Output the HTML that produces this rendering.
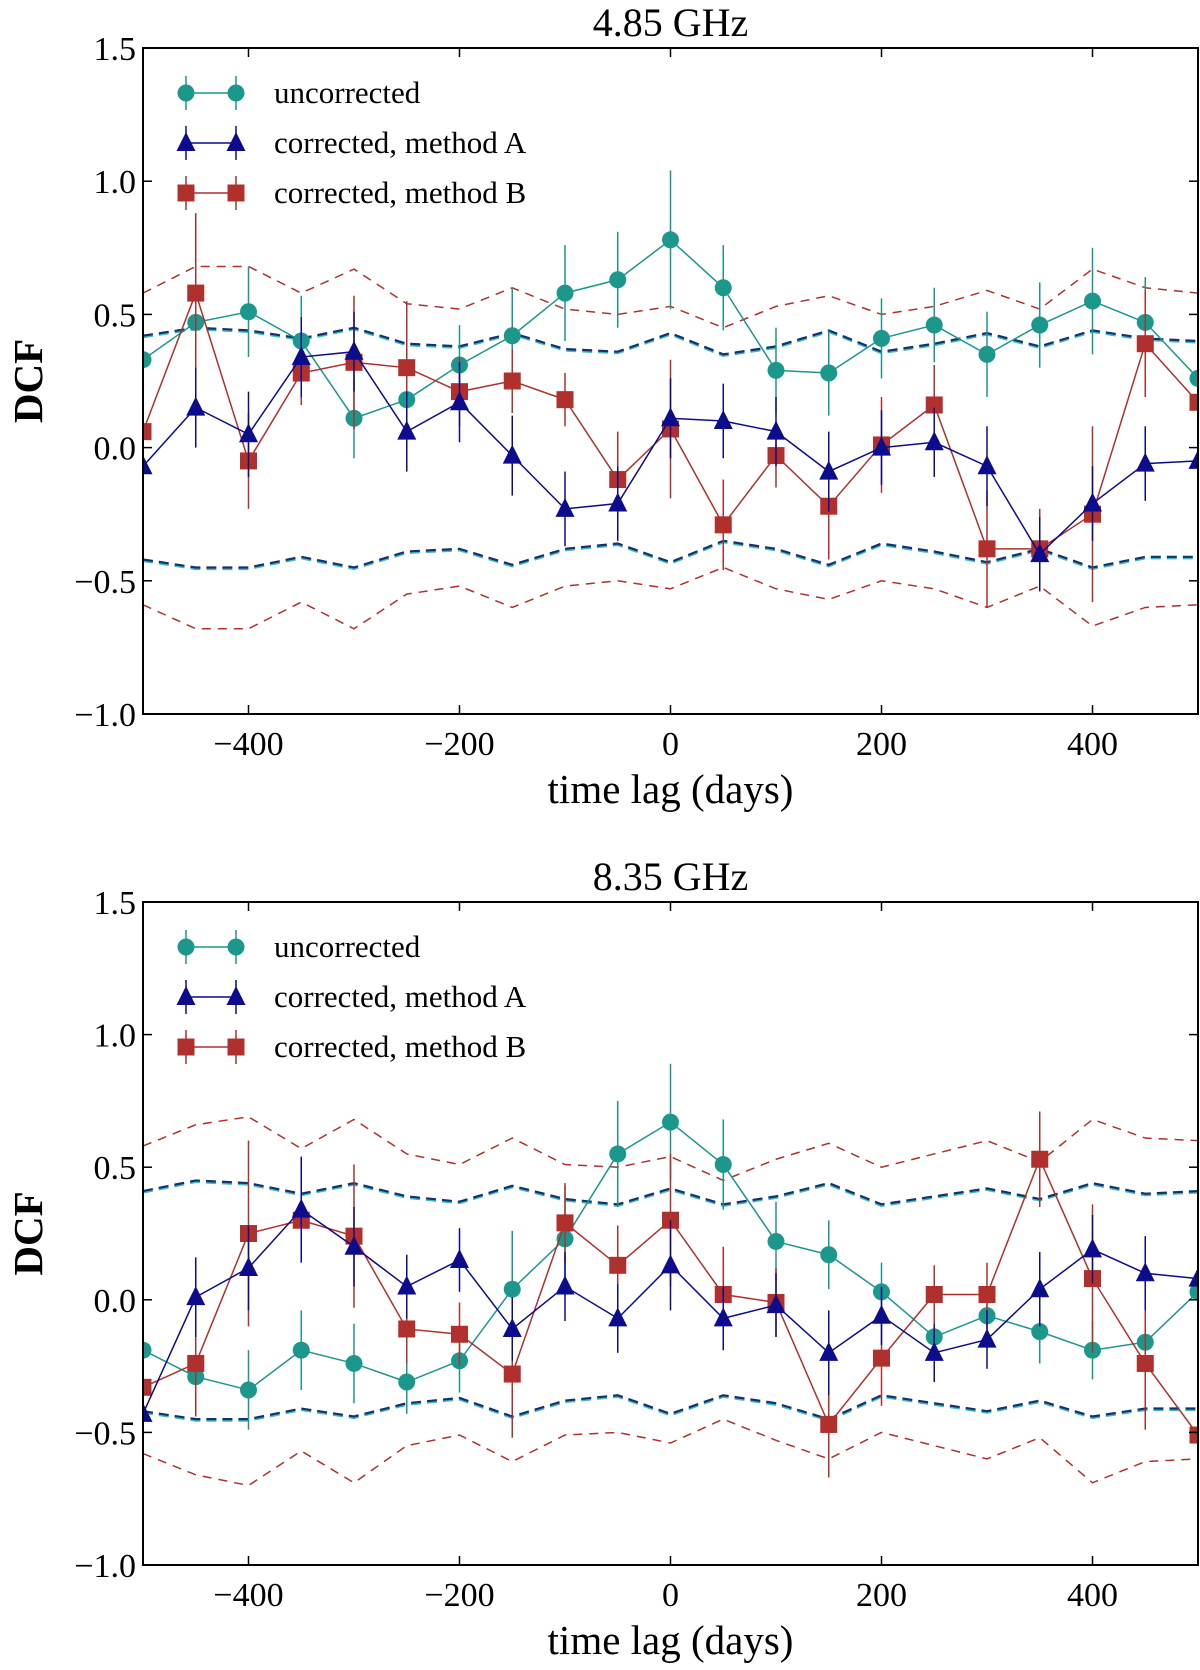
<!DOCTYPE html>
<html><head><meta charset="utf-8"><style>
body{margin:0;background:#fff}
svg{display:block;font-family:"Liberation Serif",serif}
</style></head><body>
<svg id="c" width="1200" height="1670" xmlns="http://www.w3.org/2000/svg"></svg>
<script>
const lags=[-500,-450,-400,-350,-300,-250,-200,-150,-100,-50,0,50,100,150,200,250,300,350,400,450,500];
const xTicks=[-400,-200,0,200,400];
const yTicks=[-1.0,-0.5,0.0,0.5,1.0,1.5];
const yTickLabels=["\u22121.0","\u22120.5","0.0","0.5","1.0","1.5"];
const xTickLabels=["\u2212400","\u2212200","0","200","400"];
// panel 1 (4.85 GHz)
const p1Unc=[0.33,0.47,0.51,0.40,0.11,0.18,0.31,0.42,0.58,0.63,0.78,0.60,0.29,0.28,0.41,0.46,0.35,0.46,0.55,0.47,0.26];
const p1UncErr=[0.1,0.1,0.17,0.17,0.15,0.15,0.15,0.18,0.18,0.18,0.26,0.16,0.16,0.16,0.15,0.14,0.16,0.16,0.2,0.17,0.15];
const p1A=[-0.07,0.15,0.05,0.34,0.36,0.06,0.17,-0.03,-0.23,-0.21,0.11,0.10,0.06,-0.09,0.00,0.02,-0.07,-0.40,-0.21,-0.06,-0.05];
const p1AErr=[0.15,0.15,0.16,0.15,0.15,0.15,0.15,0.15,0.14,0.14,0.15,0.14,0.13,0.15,0.14,0.13,0.15,0.14,0.14,0.14,0.14];
const p1B=[0.06,0.58,-0.05,0.28,0.32,0.30,0.21,0.25,0.18,-0.12,0.07,-0.29,-0.03,-0.22,0.01,0.16,-0.38,-0.38,-0.25,0.39,0.17];
const p1BErr=[0.12,0.3,0.18,0.12,0.25,0.25,0.13,0.12,0.1,0.18,0.26,0.17,0.12,0.2,0.18,0.15,0.22,0.15,0.33,0.2,0.12];
const p1BlueUp=[0.42,0.45,0.44,0.41,0.45,0.39,0.38,0.43,0.37,0.36,0.43,0.35,0.38,0.44,0.36,0.39,0.43,0.38,0.44,0.41,0.40];
const p1BlueLo=[-0.42,-0.45,-0.45,-0.41,-0.45,-0.39,-0.38,-0.44,-0.38,-0.36,-0.43,-0.35,-0.38,-0.44,-0.36,-0.39,-0.43,-0.38,-0.45,-0.41,-0.41];
const p1RedUp=[0.58,0.68,0.68,0.58,0.67,0.54,0.52,0.60,0.52,0.50,0.53,0.45,0.53,0.57,0.50,0.53,0.59,0.52,0.67,0.60,0.58];
const p1RedLo=[-0.59,-0.68,-0.68,-0.58,-0.68,-0.55,-0.52,-0.60,-0.52,-0.50,-0.53,-0.45,-0.53,-0.57,-0.50,-0.53,-0.60,-0.52,-0.67,-0.60,-0.59];
// panel 2 (8.35 GHz)
const p2Unc=[-0.19,-0.29,-0.34,-0.19,-0.24,-0.31,-0.23,0.04,0.23,0.55,0.67,0.51,0.22,0.17,0.03,-0.14,-0.06,-0.12,-0.19,-0.16,0.03];
const p2UncErr=[0.13,0.13,0.15,0.15,0.15,0.12,0.12,0.22,0.2,0.2,0.22,0.17,0.15,0.13,0.11,0.1,0.11,0.12,0.11,0.14,0.12];
const p2A=[-0.43,0.01,0.12,0.34,0.20,0.05,0.15,-0.11,0.05,-0.07,0.13,-0.07,-0.02,-0.20,-0.06,-0.20,-0.15,0.04,0.19,0.10,0.08];
const p2AErr=[0.14,0.15,0.16,0.2,0.15,0.12,0.12,0.12,0.13,0.13,0.17,0.12,0.12,0.16,0.11,0.11,0.11,0.14,0.13,0.14,0.13];
const p2B=[-0.33,-0.24,0.25,0.30,0.24,-0.11,-0.13,-0.28,0.29,0.13,0.30,0.02,-0.01,-0.47,-0.22,0.02,0.02,0.53,0.08,-0.24,-0.51];
const p2BErr=[0.12,0.2,0.35,0.15,0.27,0.13,0.12,0.24,0.15,0.15,0.25,0.18,0.13,0.2,0.18,0.11,0.12,0.18,0.28,0.25,0.12];
const p2BlueUp=[0.41,0.45,0.44,0.40,0.44,0.39,0.37,0.43,0.38,0.36,0.42,0.36,0.39,0.44,0.36,0.39,0.42,0.38,0.44,0.40,0.41];
const p2BlueLo=[-0.42,-0.45,-0.45,-0.41,-0.44,-0.39,-0.37,-0.44,-0.38,-0.36,-0.43,-0.36,-0.39,-0.45,-0.36,-0.39,-0.42,-0.38,-0.44,-0.41,-0.41];
const p2RedUp=[0.58,0.66,0.69,0.57,0.68,0.55,0.51,0.61,0.51,0.50,0.54,0.45,0.53,0.59,0.50,0.55,0.60,0.52,0.68,0.61,0.60];
const p2RedLo=[-0.58,-0.66,-0.70,-0.57,-0.69,-0.55,-0.51,-0.61,-0.51,-0.50,-0.54,-0.45,-0.53,-0.60,-0.50,-0.55,-0.60,-0.52,-0.69,-0.61,-0.60];

const NS="http://www.w3.org/2000/svg";
const svg=document.getElementById('c');
const TEAL="#1c978c",NAVY="#0c0c8c",RED="#b0302e";
function mk(tag,attrs,parent){const e=document.createElementNS(NS,tag);for(const k in attrs)e.setAttribute(k,attrs[k]);(parent||svg).appendChild(e);return e;}

function panel(id,top,bottom,title,unc,uncE,A,AE,B,BE,bu,bl,ru,rl){
  const L=143,R=1198;
  const g=mk('g',{});
  
  
  const xs=v=>L+(v+500)/1000*(R-L);
  const ys=v=>bottom-(v+1)/2.5*(bottom-top);
  const cp=mk('clipPath',{id:id+'-clip'},g);
  mk('rect',{x:L,y:top,width:R-L,height:bottom-top},cp);
  const plot=mk('g',{'clip-path':`url(#${id}-clip)`},g);
  
  
  const pts=(arr,dy)=>arr.map((v,i)=>xs(lags[i])+','+(ys(v)+(dy||0))).join(' ');
  [[bu,'#3fb8c8',1.5],[bl,'#3fb8c8',1.5],[bu,'#14306e',0],[bl,'#14306e',0]].forEach(([a,c,d],k)=>{
    const p=mk('polyline',{points:pts(a,d),fill:'none',stroke:c,'stroke-width':2.2,'stroke-dasharray':'10,6'},plot);
    
    
  });
  [ru,rl].forEach(a=>{
    const p=mk('polyline',{points:pts(a),fill:'none',stroke:RED,'stroke-width':1.5,'stroke-dasharray':'9,7'},plot);
    
    
  });
  function series(name,vals,errs,color,shape){
    const sg=mk('g',{},plot);
    
    
    vals.forEach((v,i)=>{const x=xs(lags[i]);mk('line',{x1:x,x2:x,y1:ys(v-errs[i]),y2:ys(v+errs[i]),stroke:color,'stroke-width':1.5},sg);});
    mk('polyline',{points:pts(vals),fill:'none',stroke:color,'stroke-width':1.5},sg);
    vals.forEach((v,i)=>marker(sg,xs(lags[i]),ys(v),color,shape));
  }
  series('uncorrected-series',unc,uncE,TEAL,'o');
  series('method-b-series',B,BE,RED,'s');
  series('method-a-series',A,AE,NAVY,'^');
  const fr=mk('rect',{x:L,y:top,width:R-L,height:bottom-top,fill:'none',stroke:'#000','stroke-width':2},g);
  
  
  xTicks.forEach((t,i)=>{const x=xs(t);
    mk('line',{x1:x,x2:x,y1:bottom,y2:bottom-9,stroke:'#000','stroke-width':1.5},g);
    mk('line',{x1:x,x2:x,y1:top,y2:top+9,stroke:'#000','stroke-width':1.5},g);
    const tx=mk('text',{x:x,y:bottom+41,'text-anchor':'middle','font-size':34},g);tx.textContent=xTickLabels[i];
    
    
  });
  yTicks.forEach((t,i)=>{const y=ys(t);
    mk('line',{x1:L,x2:L+9,y1:y,y2:y,stroke:'#000','stroke-width':1.5},g);
    mk('line',{x1:R,x2:R-9,y1:y,y2:y,stroke:'#000','stroke-width':1.5},g);
    const tx=mk('text',{x:L-7,y:y+12,'text-anchor':'end','font-size':34},g);tx.textContent=yTickLabels[i];
    
    
  });
  const tt=mk('text',{x:(L+R)/2,y:top-12,'text-anchor':'middle','font-size':40},g);tt.textContent=title;
  
  
  const xl=mk('text',{x:(L+R)/2,y:bottom+89,'text-anchor':'middle','font-size':41},g);xl.textContent='time lag (days)';
  
  
  const yl=mk('text',{x:42,y:(top+bottom)/2,'text-anchor':'middle','font-size':41,'font-weight':'bold',transform:`rotate(-90 42 ${(top+bottom)/2})`},g);yl.textContent='DCF';
  
  
  const lg=mk('g',{},g);
  
  
  [['uncorrected',TEAL,'o'],['corrected, method A',NAVY,'^'],['corrected, method B',RED,'s']].forEach(([lab,c,s],k)=>{
    const y=top+45+k*50;
    const e=mk('g',{},lg);
    
    
    [186,236].forEach(x=>mk('line',{x1:x,x2:x,y1:y-17,y2:y+17,stroke:c,'stroke-width':1.5},e));
    mk('line',{x1:186,x2:236,y1:y,y2:y,stroke:c,'stroke-width':1.5},e);
    marker(e,186,y,c,s);marker(e,236,y,c,s);
    const t=mk('text',{x:274,y:y+10,'font-size':31},e);t.textContent=lab;
  });
}
function marker(p,x,y,c,s){
  if(s==='o')mk('circle',{cx:x,cy:y,r:8.5,fill:c},p);
  else if(s==='s')mk('rect',{x:x-8.5,y:y-8.5,width:17,height:17,fill:c},p);
  else mk('polygon',{points:`${x},${y-11} ${x-9.5},${y+8} ${x+9.5},${y+8}`,fill:c},p);
}
panel('panel-4-85ghz',48,714,'4.85 GHz',p1Unc,p1UncErr,p1A,p1AErr,p1B,p1BErr,p1BlueUp,p1BlueLo,p1RedUp,p1RedLo);
panel('panel-8-35ghz',902,1565,'8.35 GHz',p2Unc,p2UncErr,p2A,p2AErr,p2B,p2BErr,p2BlueUp,p2BlueLo,p2RedUp,p2RedLo);
</script>
</body></html>
